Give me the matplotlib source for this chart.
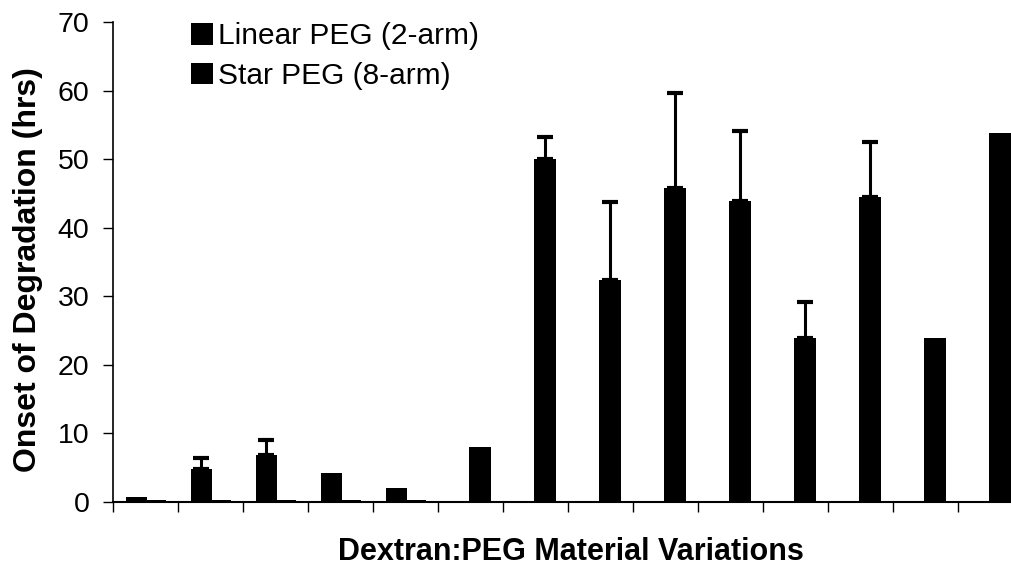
import numpy as np
import matplotlib
matplotlib.use("Agg")
import matplotlib.pyplot as plt

plt.rcParams['font.family'] = ['Liberation Sans', 'DejaVu Sans']

# onset of degradation (hrs) for each material variation, 14 groups
linear_peg = [0.7, 4.8, 6.9, 4.2, 2.0, 0, 0, 0, 0, 0, 0, 0, 0, 0]
linear_err = [0, 1.6, 2.1, 0, 0, 0, 0, 0, 0, 0, 0, 0, 0, 0]
star_peg = [0.3, 0.3, 0.3, 0.3, 0.3, 8.0, 50.0, 32.4, 45.8, 43.9, 23.9, 44.5, 23.9, 53.8]
star_err = [0, 0, 0, 0, 0, 0, 3.3, 11.3, 13.9, 10.2, 5.2, 8.0, 0, 0]

x = np.arange(len(star_peg))
w = 0.33

fig = plt.figure(figsize=(10.11, 5.69), dpi=100)
ax = fig.add_axes([113/1011, 1 - 502/569, 910/1011, 480/569])

ax.bar(x + 0.145, star_peg, w, color='black', label='Star PEG (8-arm)')
ax.bar(x - 0.14, linear_peg, w, color='black', label='Linear PEG (2-arm)')

lo = np.zeros(len(x))
ekw = dict(fmt='none', ecolor='black', elinewidth=2.2, capsize=6, capthick=3)
m = np.array(linear_err) > 0
ax.errorbar((x - 0.14)[m], np.array(linear_peg)[m], yerr=[lo[m], np.array(linear_err)[m]], **ekw)
m = np.array(star_err) > 0
ax.errorbar((x + 0.145)[m], np.array(star_peg)[m], yerr=[lo[m], np.array(star_err)[m]], **ekw)

ax.set_xlim(-0.5, len(x) - 0.5)
ax.set_ylim(0, 70)
ax.set_yticks(range(0, 71, 10))
ax.set_xticks(np.arange(-0.5, len(x), 1))
ax.set_xticklabels([])
ax.tick_params(axis='y', labelsize=20.5, length=7, width=1, direction='out', pad=10)
ax.tick_params(axis='x', length=7, width=1, direction='out')
for s in ['top', 'right']:
    ax.spines[s].set_visible(False)
ax.spines['left'].set_linewidth(1.2)
ax.spines['bottom'].set_linewidth(1.5)

fig.text(28/1011, 1 - 270/569, 'Onset of Degradation (hrs)', rotation=90,
         ha='center', va='center', fontsize=23, fontweight='bold')
fig.text(571/1011, 1 - 560/569, 'Dextran:PEG Material Variations',
         ha='center', va='baseline', fontsize=22, fontweight='bold')

h, l = ax.get_legend_handles_labels()
ax.legend(h[::-1], l[::-1], loc='upper left', bbox_to_anchor=(191/1011, 1 - 22/569),
          bbox_transform=fig.transFigure, frameon=False, borderpad=0, borderaxespad=0,
          fontsize=21.5, handlelength=0.75, handleheight=0.75, handletextpad=0.15, labelspacing=0.4)

fig.savefig('out.png', dpi=100)
